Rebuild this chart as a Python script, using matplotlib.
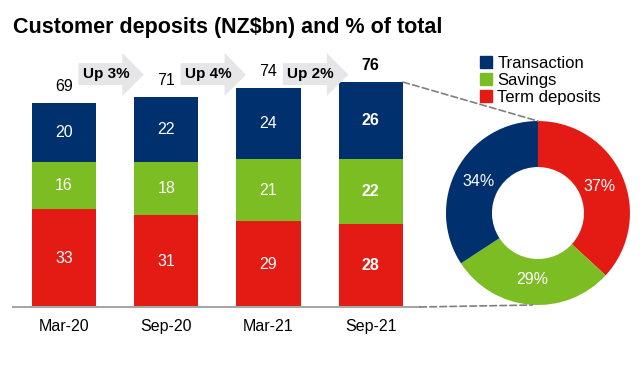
import matplotlib.pyplot as plt
from matplotlib.patches import Polygon, ConnectionPatch

plt.rcParams['font.family'] = ['Liberation Sans', 'DejaVu Sans']

# data
periods = ['Mar-20', 'Sep-20', 'Mar-21', 'Sep-21']
transaction = [20, 22, 24, 26]
savings = [16, 18, 21, 22]
term = [33, 31, 29, 28]
growth_labels = ['Up 3%', 'Up 4%', 'Up 2%']
series_names = ['Transaction', 'Savings', 'Term deposits']

c_trans = '#00306E'
c_sav = '#7BBD22'
c_term = '#E31B14'

fig = plt.figure(figsize=(6.44, 3.86), dpi=100)
fig.text(0.02, 0.928, 'Customer deposits (NZ$bn) and % of total',
         fontsize=15.5, fontweight='bold', va='center', ha='left')

# --- stacked bars ---
ax = fig.add_axes([0.02, 0.2047, 0.632, 0.690])
x = list(range(len(periods)))
w = 0.63
totals = [a + b + c for a, b, c in zip(transaction, savings, term)]
bottom_sav = term
bottom_trans = [a + b for a, b in zip(term, savings)]
ax.bar(x, term, w, color=c_term)
ax.bar(x, savings, w, bottom=bottom_sav, color=c_sav)
ax.bar(x, transaction, w, bottom=bottom_trans, color=c_trans)

for i in x:
    fw = 'bold' if i == len(x) - 1 else 'normal'
    ax.text(i, term[i] / 2, str(term[i]), color='white', ha='center', va='center',
            fontsize=11.5, fontweight=fw)
    ax.text(i, bottom_sav[i] + savings[i] / 2, str(savings[i]), color='white',
            ha='center', va='center', fontsize=11.5, fontweight=fw)
    ax.text(i, bottom_trans[i] + transaction[i] / 2, str(transaction[i]), color='white',
            ha='center', va='center', fontsize=11.5, fontweight=fw)
    ax.annotate(str(totals[i]), (i, totals[i]), xytext=(0, 12), textcoords='offset points',
                ha='center', va='center', fontsize=11.5, fontweight=fw)

# growth arrows
for i, lab in enumerate(growth_labels):
    x0, x1 = i + 0.14, i + 0.78
    xh = x1 - 0.21
    pts = [(x0, 75.0), (xh, 75.0), (xh, 71.3), (x1, 78.5), (xh, 85.8), (xh, 82.4), (x0, 82.4)]
    ax.add_patch(Polygon(pts, closed=True, facecolor='#E6E6E8', edgecolor='none', zorder=1))
    ax.text(i + 0.41, 78.7, lab, ha='center', va='center', fontsize=11, fontweight='bold')

ax.set_xlim(-0.5, 3.48)
ax.set_ylim(0, 90)
ax.set_xticks(x)
ax.set_xticklabels(periods, fontsize=11.5)
ax.tick_params(axis='x', length=0, pad=9)
ax.set_yticks([])
for s in ['top', 'right', 'left']:
    ax.spines[s].set_visible(False)
ax.spines['bottom'].set_color('#A6A6A6')
ax.spines['bottom'].set_linewidth(1.5)

# --- donut for latest period ---
axp = fig.add_axes([0.6925, 0.2098, 0.2857, 0.4767])
pie_vals = [term[-1], savings[-1], transaction[-1]]
axp.pie(pie_vals, colors=[c_term, c_sav, c_trans], startangle=90, counterclock=False,
        radius=1, wedgeprops=dict(width=0.5, edgecolor='none'),
        autopct='%1.0f%%', pctdistance=0.73,
        textprops=dict(color='white', fontsize=11.5))
axp.set_xlim(-1, 1)
axp.set_ylim(-1, 1)
axp.set_aspect('equal')
axp.axis('off')

# dashed connectors
for xyA, xyB, cA in [((3 + w / 2, totals[-1]), (0, 1), ax.transData),
                     ((1, 0), (-0.06, -1), ax.transAxes)]:
    con = ConnectionPatch(xyA=xyA, coordsA=cA, xyB=xyB, coordsB=axp.transData,
                          linestyle=(0, (4, 2)), color='#7F7F7F', linewidth=1.2)
    fig.add_artist(con)

# legend
handles = [plt.Rectangle((0, 0), 1, 1, color=c) for c in [c_trans, c_sav, c_term]]
fig.legend(handles, series_names, loc='upper left', bbox_to_anchor=(0.745, 0.855),
           frameon=False, fontsize=12, handlelength=0.75, handleheight=0.75,
           handletextpad=0.3, labelspacing=0.12, borderpad=0, borderaxespad=0)

plt.savefig('out.png', dpi=100)
